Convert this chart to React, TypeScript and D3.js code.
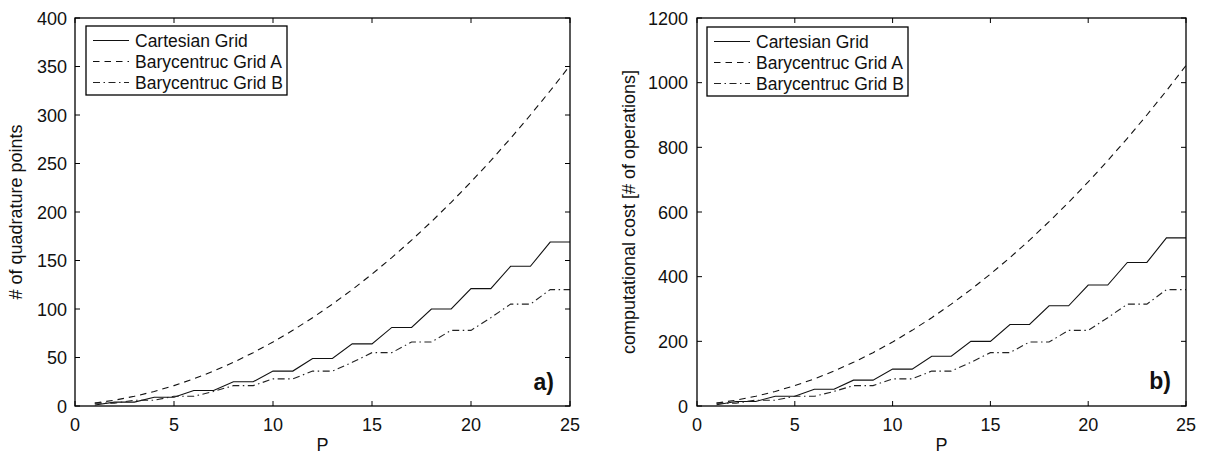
import React from "react";
import * as d3 from "d3";

// Polynomial degree P on the x axis
const P: number[] = [1, 2, 3, 4, 5, 6, 7, 8, 9, 10, 11, 12, 13, 14, 15, 16, 17, 18, 19, 20, 21, 22, 23, 24, 25];

// Panel a) number of quadrature points
const cartesianPoints: number[] = [1, 4, 4, 9, 9, 16, 16, 25, 25, 36, 36, 49, 49, 64, 64, 81, 81, 100, 100, 121, 121, 144, 144, 169, 169];
const baryAPoints: number[] = [3, 6, 10, 15, 21, 28, 36, 45, 55, 66, 78, 91, 105, 120, 136, 153, 171, 190, 210, 231, 253, 276, 300, 325, 351];
const baryBPoints: number[] = [3, 3, 6, 6, 10, 10, 15, 21, 21, 28, 28, 36, 36, 45, 55, 55, 66, 66, 78, 78, 91, 105, 105, 120, 120];

// Panel b) computational cost
const cartesianCost: number[] = [4, 14, 14, 30, 30, 52, 52, 80, 80, 114, 114, 154, 154, 200, 200, 252, 252, 310, 310, 374, 374, 444, 444, 520, 520];
const baryACost: number[] = [9, 18, 30, 45, 63, 84, 108, 135, 165, 198, 234, 273, 315, 360, 408, 459, 513, 570, 630, 693, 759, 828, 900, 975, 1053];
const baryBCost: number[] = [9, 9, 18, 18, 30, 30, 45, 63, 63, 84, 84, 108, 108, 135, 165, 165, 198, 198, 234, 234, 273, 315, 315, 360, 360];

const seriesNames: string[] = ["Cartesian Grid", "Barycentruc Grid A", "Barycentruc Grid B"];
const xTicks: number[] = [0, 5, 10, 15, 20, 25];
const yTicksA: number[] = [0, 50, 100, 150, 200, 250, 300, 350, 400];
const yTicksB: number[] = [0, 200, 400, 600, 800, 1000, 1200];

const FONT = "'Liberation Sans', Arial, Helvetica, sans-serif";
const FS = 18;
const dashes = [null, "6.5,5", "7,3.5,1.5,3.5"];

type PanelProps = {
  x0: number;
  x1: number;
  yMax: number;
  yTicks: number[];
  series: number[][];
  yLabel: string;
  yLabelX: number;
  tickLabelRight: number;
  legendX: number;
  legendY: number;
  tag: string;
  tagX: number;
  tagY: number;
};

function Panel(props: PanelProps) {
  const { x0, x1, yMax, yTicks, series, yLabel, yLabelX, tickLabelRight, legendX, legendY, tag, tagX, tagY } = props;
  const top = 18;
  const bottom = 406;
  const x = d3.scaleLinear().domain([0, 25]).range([x0, x1]);
  const y = d3.scaleLinear().domain([0, yMax]).range([bottom, top]);
  const line = d3
    .line<number>()
    .x((_, i) => x(P[i]))
    .y((v) => y(v));
  const tl = 5;
  const legendW = 201;
  const legendH = 69;
  return (
    <g>
      {/* data lines */}
      {series.map((s, k) => (
        <path
          key={k}
          d={line(s) || ""}
          fill="none"
          stroke={k === 2 ? "#222" : "#111"}
          strokeWidth={1.1}
          strokeDasharray={dashes[k] || undefined}
        />
      ))}
      {/* axes box */}
      <rect x={x0} y={top} width={x1 - x0} height={bottom - top} fill="none" stroke="#000" strokeWidth={1.3} />
      {xTicks.map((t) => (
        <g key={"xt" + t}>
          <line x1={x(t)} x2={x(t)} y1={bottom} y2={bottom - tl} stroke="#000" />
          <line x1={x(t)} x2={x(t)} y1={top} y2={top + tl} stroke="#000" />
          <text x={x(t)} y={431} textAnchor="middle" fontFamily={FONT} fontSize={FS} fill="#111">
            {t}
          </text>
        </g>
      ))}
      {yTicks.map((t) => (
        <g key={"yt" + t}>
          <line x1={x0} x2={x0 + tl} y1={y(t)} y2={y(t)} stroke="#000" />
          <line x1={x1} x2={x1 - tl} y1={y(t)} y2={y(t)} stroke="#000" />
          <text x={tickLabelRight} y={y(t) + 6.5} textAnchor="end" fontFamily={FONT} fontSize={FS} fill="#111">
            {t}
          </text>
        </g>
      ))}
      <text x={(x0 + x1) / 2} y={451} textAnchor="middle" fontFamily={FONT} fontSize={FS} fill="#111">
        P
      </text>
      <text
        transform={`translate(${yLabelX},${(top + bottom) / 2}) rotate(-90)`}
        textAnchor="middle"
        fontFamily={FONT}
        fontSize={FS}
        fill="#111"
      >
        {yLabel}
      </text>
      {/* legend */}
      <rect x={legendX} y={legendY} width={legendW} height={legendH} fill="#fff" stroke="#000" strokeWidth={1.3} />
      {seriesNames.map((name, k) => {
        const cy = legendY + 14.5 + k * 21;
        return (
          <g key={name}>
            <line
              x1={legendX + 7}
              x2={legendX + 43}
              y1={cy}
              y2={cy}
              stroke={k === 2 ? "#222" : "#111"}
              strokeWidth={1.1}
              strokeDasharray={dashes[k] || undefined}
            />
            <text x={legendX + 49} y={cy + 6.3} fontFamily={FONT} fontSize={17.5} fill="#111">
              {name}
            </text>
          </g>
        );
      })}
      <text x={tagX} y={tagY} textAnchor="end" fontFamily={FONT} fontSize={23} fontWeight="bold" fill="#111">
        {tag}
      </text>
    </g>
  );
}

export default function App() {
  return (
    <svg
      width={1207}
      height={454}
      style={{ position: "absolute", left: 0, top: 0, background: "#fff" }}
    >
      <rect x={0} y={0} width={1207} height={454} fill="#fff" />
      <Panel
        x0={75}
        x1={570}
        yMax={400}
        yTicks={yTicksA}
        series={[cartesianPoints, baryAPoints, baryBPoints]}
        yLabel="# of quadrature points"
        yLabelX={21.5}
        tickLabelRight={67}
        legendX={86}
        legendY={26}
        tag="a)"
        tagX={554}
        tagY={390}
      />
      <Panel
        x0={697}
        x1={1186}
        yMax={1200}
        yTicks={yTicksB}
        series={[cartesianCost, baryACost, baryBCost]}
        yLabel="computational cost [# of operations]"
        yLabelX={634.5}
        tickLabelRight={688}
        legendX={707}
        legendY={27}
        tag="b)"
        tagX={1171}
        tagY={389}
      />
    </svg>
  );
}
